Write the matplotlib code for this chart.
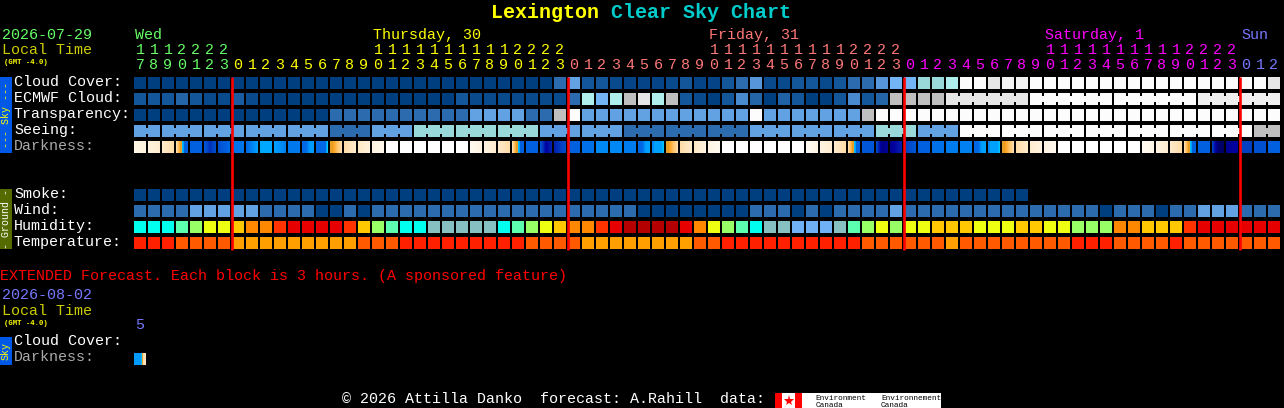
import numpy as np
import matplotlib
matplotlib.use("Agg")
import matplotlib.pyplot as plt
from matplotlib.colors import LinearSegmentedColormap, ListedColormap, Normalize

# ---------- data ----------
hours = [17,18,19,20,21,22,23,
         0,1,2,3,4,5,6,7,8,9,10,11,12,13,14,15,16,17,18,19,20,21,22,23,
         0,1,2,3,4,5,6,7,8,9,10,11,12,13,14,15,16,17,18,19,20,21,22,23,
         0,1,2,3,4,5,6,7,8,9,10,11,12,13,14,15,16,17,18,19,20,21,22,23,
         0,1,2]
day_names = ["Wed", "Thursday, 30", "Friday, 31", "Saturday, 1", "Sun"]

cloud = [0,0,0,0,0,0,0,0,0,0, 0,0,0,0,0,0,0,0,0,0, 0,0,0,0,0,0,0,0,0,0,
         2,4,1,1,.5,.3,.3,.3,.5,1, .3,.3,1,2,3.5,.5,.5,1,1,.5,
         1,2,2,3.5,5,5,6,6,7,10, 10,9,9.5,9.5,10,10,10,10,10,10,
         10,10,10,10,10,10,10,10,10,10, 10,9]
ecmwf = [1,1,1,1.7,1,.5,.5,1.3,.5,0, 0,0,0,0,0,0,0,0,0,0,
         0,0,0,1,.5,.5,.5,.5,.5,.5, .5,2,7,5,7,8,9,7,8,1,
         .5,0,1,3,1.7,0,1.5,1,0,0, 1,3,1,1.7,8,8,8,8,9,9,
         9,9,9,9,10,10,10,10,10,10, 10,10,10,10,10,10,9.4,9.4,9.4,9.4, 9.4,9.4]
ecmwf_runs = [1]*58 + [6,6,6,6]
transparency = [0,0,0,0,0,0,0,0,0,0, 0,0,0,0,2,2,2,2,2,2,
                2,2,2,2,4,4,4,4,2,2, 8,10,4,4,4,4,4,4,4,4,
                4,4,4,4,10,4,4,4,4,4, 4,4,8,10,10,10,10,10,10,10,
                10,10,10,10,10,10,10,10,10,10, 10,10,10,10,10,10,10,10,10,10, 10,10]
seeing_runs = [2,3,3,3,3,3,3,3,3,3,3,3,3,3,3,3,3,3,3,3,3,3,3,3,3,3,3,2]
seeing = [4,4,4,4,4,2,4,6,6,6,4,4,2,2,2,4,4,4,6,4,10,10,10,10,10,10,10,8]

D = (3,3.5,4,4.5,5,5,5.2,5.5,7,7,7,7)          # sunset block
darkness = [(1,1.3),(1.4,1.8),(2,3),D,(7,),(7.3,8.3,7.6),(7.5,6.8),(6.5,),(6.8,5.5),(5.4,),
            (5.5,6.2),(6.4,),(6.8,6.8,5.6,5.6),(6.8,6.8,6.8,6.8,6.8,6.8,6.8,6.8,6.8,6.8,5.5,5.05),
            (5,5,4.5,4,3.5,3),(3,2),(2.2,1.4),(1.2,.8),(0,),(0,),
            (0,),(0,),(0,),(0,),(.6,1.2),(1.2,1.8),(2,3),D,(7,),(7.5,9,8.5),
            (8.5,7.7),(7,),(6.6,),(6,),(6,),(6.3,),(6.8,6.8,5.5,5.5),
            (6,6,5.5,5.5,5.5,5.5,5.5,5.5,5.5,5.5,5.3,5.05),(5,5,4.5,4,3.5,3),(3,2),
            (2.2,1.2),(1.2,.6),(0,),(0,),(0,),(0,),(0,),(0,),(.5,1.1),(1.2,1.8),
            (2,3),D,(7.3,),(7.8,9.4,9.2),(9.2,8.5),(8,7.3),(7,),(6.6,),(6.3,),(6.2,),
            (6.8,6.8,5.5,5.5),(6,6,5.5,5.5,5.5,5.5,5.5,5.5,5.5,5.5,5.3,5.05),(5,5,4.5,4,3.5,3),(3,2),
            (1.8,1.3),(1.2,.7),(0,),(0,),(0,),(0,),(0,),(0,),
            (.6,1),(1.2,1.8),(2,3),D,(7,),(8,9.7,10),(9.2,9),(8,),(7.5,),(7,)]

smoke = [0]*64
wind = [2,2,2,2,4,4,4,4,4,2, 2,2,2,0,0,2,0,2,2,2,
        2,2,2,2,2,2,2,2,2,2, 2,2,2,2,2,2,0,0,0,0,
        0,0,0,0,2,2,2,0,2,0, 2,2,2,2,4,2,2,2,2,2,
        2,2,2,2,2,2,2,2,2,0, 2,2,2,0,2,2,4,4,4,2, 2,2]
humidity = [2,2,2,3,4,5,5,6,7,7, 8,9,9,9,9,8,6,4,3,2,
            2,1,1,1,1,1,2,3,4,5, 6,7,7,8,9,10,10,10,10,9,
            7,5,4,3,2,1,1,0,0,0, 1,3,4,5,4,5,5,6,6,6,
            5,5,5,6,6,5,5,4,4,4, 7,7,6,6,6,8,9,9,9,9, 9,9]
temperature = [2,2,2,1,1,1,1,0,0,0, 0,0,0,0,0,0,1,1,1,2,
               2,2,2,2,2,2,2,2,1,1, 1,1,0,0,0,0,0,0,0,0,
               1,1,2,2,2,2,2,2,2,2, 2,2,1,1,1,1,1,1,0,1,
               1,1,1,1,1,1,1,2,2,2, 1,1,1,1,2,1,1,1,1,1, 1,1]
ext_darkness = [(5.6,5.6,5.6,5.6,5.6,5.6,5.6,5.2,5,3,2.6,2.6)]

# ---------- scales ----------
cover_cmap = LinearSegmentedColormap.from_list("cover", [
    (0.0, "#003f7f"), (0.1, "#13569b"), (0.2, "#2c6cae"), (0.3, "#4a8bd0"), (0.4, "#62a2e3"),
    (0.5, "#72b3f6"), (0.6, "#99d9d9"), (0.7, "#b0efef"), (0.8, "#bfbfbf"), (0.9, "#e6e6e6"),
    (1.0, "#fcfcfc")])
cover_norm = Normalize(0, 10)
dark_cmap = LinearSegmentedColormap.from_list("dark", [
    (0.0, "#ffffff"), (0.1, "#fff6e6"), (0.2, "#ffeacb"), (0.3, "#ffdca8"), (0.4, "#ffc060"),
    (0.5, "#ff9a10"), (0.505, "#00c8ff"), (0.55, "#00a0ff"), (0.6, "#0088f5"), (0.7, "#0060e0"),
    (0.8, "#0040c0"), (0.9, "#0000a0"), (1.0, "#000060")], N=1024)
humid_cmap = ListedColormap(["#70b0f5", "#87c0c0", "#00ffee", "#5cffb0", "#99ff66", "#eeff11",
                             "#ffc800", "#ff8800", "#ff3300", "#e60000", "#b40000"])
temp_cmap = ListedColormap(["#ffa000", "#ff5a00", "#ff2000"])

W, H = 1284, 408
PITCH_X, PITCH_Y, BLOCK = 14, 16, 12
BW, BH = BLOCK / PITCH_X, BLOCK / PITCH_Y
ROWS = {"cloud": 0, "ecmwf": 1, "trans": 2, "seeing": 3, "dark": 4,
        "smoke": 7, "wind": 8, "humid": 9, "temp": 10}

fig = plt.figure(figsize=(W / 100, H / 100), dpi=100, facecolor="black")
MONO = ["Liberation Mono", "DejaVu Sans Mono"]


def add_axes(px_left, px_top, ncols, nrows):
    ax = fig.add_axes([px_left / W, 1 - (px_top + nrows * PITCH_Y) / H,
                       ncols * PITCH_X / W, nrows * PITCH_Y / H])
    ax.set_xlim(0, ncols)
    ax.set_ylim(nrows, 0)
    ax.axis("off")
    return ax


def draw_row(ax, row, colors):
    x = np.arange(len(colors))
    ax.bar(x, BH, width=BW, bottom=row, align="edge", color=colors, linewidth=0)


def draw_links(ax, row, colors, runs):
    pos = 0
    for r in runs:
        for k in range(r - 1):
            ax.bar(pos + k + BW, 6 / PITCH_Y, width=1 - BW, bottom=row + 3 / PITCH_Y,
                   align="edge", color=[colors[pos + k]], linewidth=0)
        pos += r


def draw_darkness(ax, row, samples):
    for c, s in enumerate(samples):
        vals = np.interp(np.linspace(0, 1, BLOCK),
                         np.linspace(0, 1, len(s)) if len(s) > 1 else [0], s)
        ax.pcolormesh(np.linspace(c, c + BW, BLOCK + 1), [row, row + BH], vals[None, :],
                      cmap=dark_cmap, norm=Normalize(0, 10), antialiased=False,
                      linewidth=0, rasterized=True)


ax = add_axes(134, 77, 82, 11)
cover = lambda v: cover_cmap(cover_norm(np.asarray(v, dtype=float)))
draw_row(ax, ROWS["cloud"], cover(cloud))
draw_row(ax, ROWS["ecmwf"], cover(ecmwf))
draw_links(ax, ROWS["ecmwf"], cover(ecmwf), ecmwf_runs)
draw_row(ax, ROWS["trans"], cover(transparency))
seeing_cols = np.repeat(seeing, seeing_runs)
draw_row(ax, ROWS["seeing"], cover(seeing_cols))
draw_links(ax, ROWS["seeing"], cover(seeing_cols), seeing_runs)
draw_darkness(ax, ROWS["dark"], darkness)
draw_row(ax, ROWS["smoke"], cover(smoke))
draw_row(ax, ROWS["wind"], cover(wind))
draw_row(ax, ROWS["humid"], humid_cmap(np.array(humidity)))
draw_row(ax, ROWS["temp"], temp_cmap(np.array(temperature)))

midnights = [i for i, h in enumerate(hours) if h == 0]
ax.vlines(midnights, 0, 10 + BH + 0.05, color="#ff0000", linewidth=1.9, zorder=5)

ax2 = add_axes(134, 337, 82, 2)
draw_darkness(ax2, 1, ext_darkness)

# ---------- text and furniture in page pixels ----------
page = fig.add_axes([0, 0, 1, 1], zorder=10)
page.set_xlim(0, W)
page.set_ylim(H, 0)
page.axis("off")
page.patch.set_alpha(0)


def txt(x, y, s, color="white", size=10.8, **kw):
    kw.setdefault("va", "baseline")
    kw.setdefault("ha", "left")
    page.text(x, y, s, color=color, fontsize=size, family=MONO, **kw)


txt(491, 18, "Lexington", "#ffff00", 14.4, fontweight="bold")
txt(491 + 10 * 12, 18, "Clear Sky Chart", "#00cccc", 14.4, fontweight="bold")

GREEN, YEL, PINK, MAG, BLUE = "#66ff66", "#ffff00", "#ff7777", "#ff00ff", "#7777ff"
day_colors = [GREEN, YEL, PINK, MAG, BLUE]
txt(2, 39, "2026-07-29", GREEN)
txt(2, 54, "Local Time", "#cccc00")
txt(4, 64, "(GMT -4.0)", "#ffff00", 5.2, fontweight="bold")

day_of = np.searchsorted(midnights, np.arange(len(hours)), side="right")
for c, h in enumerate(hours):
    col = day_colors[day_of[c]]
    cx = 134 + PITCH_X * c + 6
    if h >= 10:
        txt(cx, 54, str(h // 10), col, ha="center")
    txt(cx, 69, str(h % 10), col, ha="center")
label_cols = [0, 17, 41, 65, 79]
for name, c, col in zip(day_names, label_cols, day_colors):
    txt(134 + PITCH_X * c + 1, 39, name, col)

labels = [("Cloud Cover:", 86, "white"), ("ECMWF Cloud:", 102, "white"), ("Transparency:", 118, "white"),
          ("Seeing:", 134, "white"), ("Darkness:", 150, "#aaaaaa"), ("Smoke:", 198, "white"),
          ("Wind:", 214, "white"), ("Humidity:", 230, "white"), ("Temperature:", 246, "white")]
for s, y, c in labels:
    txt(14, y, s, c)

SKY, OLIVE = "#0058e6", "#556b00"
page.fill_between([0, 12], 77, 153, color=SKY, linewidth=0)
page.fill_between([0, 12], 189, 249, color=OLIVE, linewidth=0)
page.fill_between([0, 12], 337, 365, color=SKY, linewidth=0)
txt(6, 115, "--- Sky ---", "#ffff00", 7.2, rotation=90, ha="center", va="center")
txt(6, 219, "- Ground -", "white", 7.2, rotation=90, ha="center", va="center")
txt(6, 351, "Sky", "#ffff00", 7.2, rotation=90, ha="center", va="center")

txt(0, 280, "EXTENDED Forecast. Each block is 3 hours. (A sponsored feature)", "#ff0000")
txt(2, 299, "2026-08-02", BLUE)
txt(2, 315, "Local Time", "#cccc00")
txt(4, 325, "(GMT -4.0)", "#ffff00", 5.2, fontweight="bold")
txt(140, 329, "5", BLUE, ha="center")
txt(14, 345, "Cloud Cover:")
txt(14, 361, "Darkness:", "#aaaaaa")

txt(342, 403, "\u00a9 2026 Attilla Danko  forecast: A.Rahill  data:")
page.fill_between([775, 802], 393, 408, color="white", linewidth=0)
page.fill_between([775, 782], 393, 408, color="#ff0000", linewidth=0)
page.fill_between([795, 802], 393, 408, color="#ff0000", linewidth=0)
page.plot([788.5], [400.5], marker="*", color="#ff0000", markersize=8, markeredgewidth=0)
page.fill_between([802, 941], 393, 408, color="white", linewidth=0)
txt(815, 400, "Environment", "black", 5.6)
txt(816, 407, "Canada", "black", 5.6)
txt(881, 400, "Environnement", "black", 5.6)
txt(881, 407, "Canada", "black", 5.6)

fig.savefig("out.png", dpi=100, facecolor="black")
